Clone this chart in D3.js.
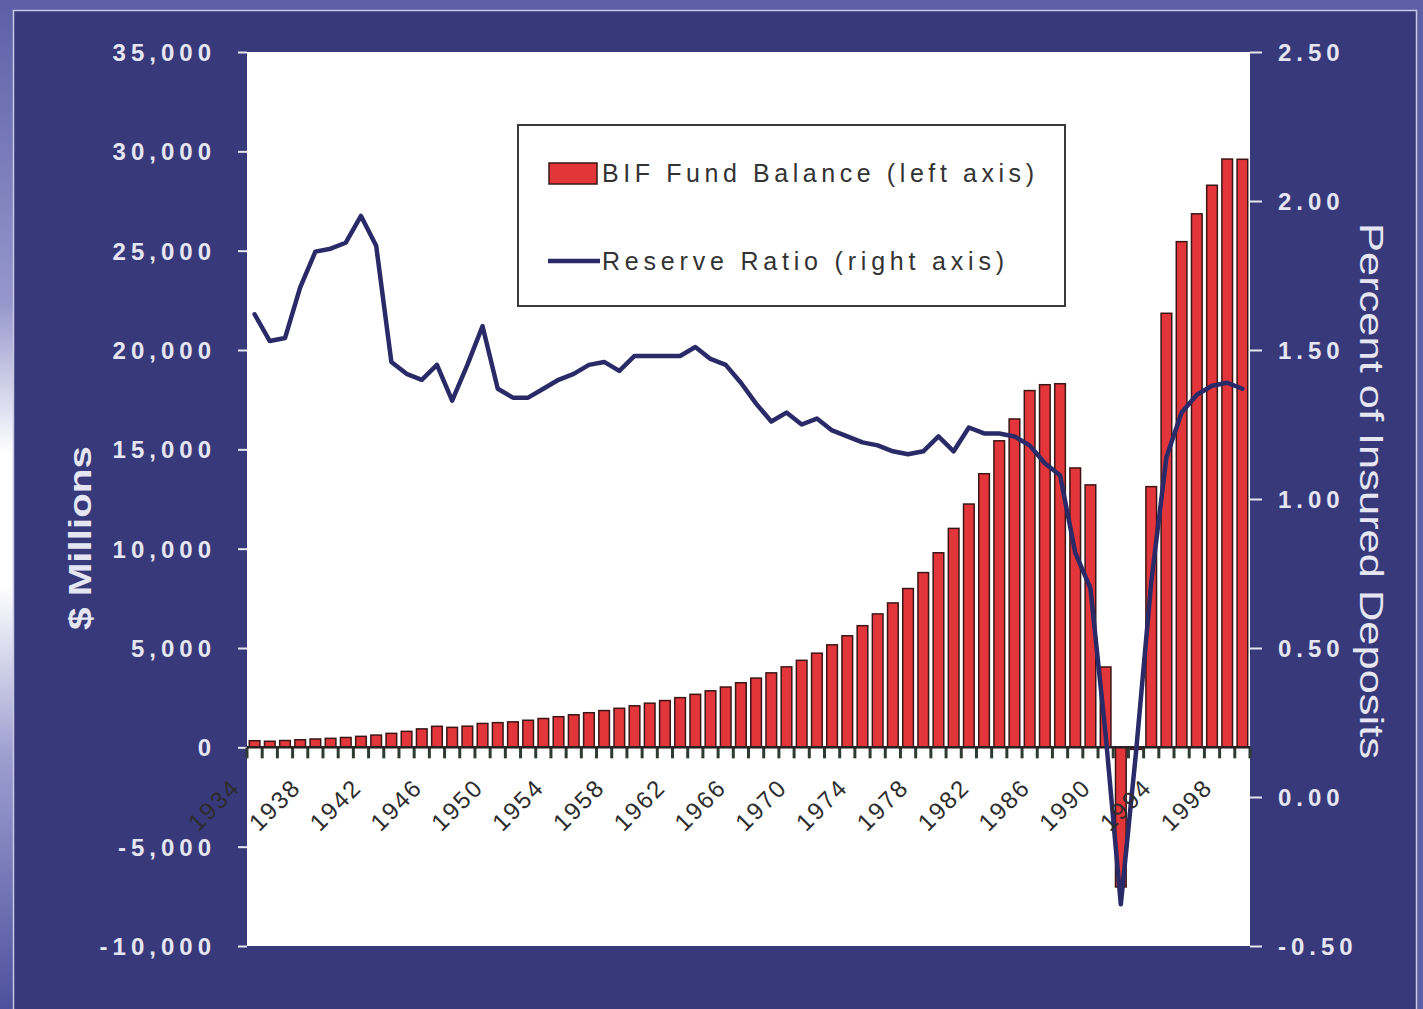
<!DOCTYPE html>
<html>
<head>
<meta charset="utf-8">
<script src="https://cdn.jsdelivr.net/npm/d3@7"></script>
<style>
  html, body { margin: 0; padding: 0; background: #5c5fa6; }
  svg { display: block; }
</style>
</head>
<body>
<svg id="chart" width="1423" height="1009"></svg>
<script>
// Years on the category axis
const years = [
  "1934","1935","1936","1937","1938","1939","1940","1941","1942","1943",
  "1944","1945","1946","1947","1948","1949","1950","1951","1952","1953",
  "1954","1955","1956","1957","1958","1959","1960","1961","1962","1963",
  "1964","1965","1966","1967","1968","1969","1970","1971","1972","1973",
  "1974","1975","1976","1977","1978","1979","1980","1981","1982","1983",
  "1984","1985","1986","1987","1988","1989","1990","1991","1992","1993",
  "1994","1995","1996","1997","1998","1999"
];

// BIF fund balance, $ millions (left axis)
const fundBalance = [
  333, 306, 343, 383, 420, 452, 496, 553, 616, 703,
  804, 929, 1058, 1006, 1065, 1203, 1243, 1282, 1363, 1451,
  1542, 1639, 1742, 1851, 1965, 2090, 2222, 2354, 2502, 2668,
  2845, 3036, 3252, 3485, 3749, 4051, 4380, 4739, 5159, 5615,
  6124, 6716, 7269, 7993, 8796, 9793, 11020, 12246, 13771, 15429,
  16529, 17957, 18253, 18302, 14062, 13210, 4045, -7028, -101, 13122,
  21848, 25454, 26854, 28293, 29612, 29600
];

// Reserve ratio, percent of insured deposits (right axis)
const reserveRatio = [
  1.62, 1.53, 1.54, 1.71, 1.83, 1.84, 1.86, 1.95, 1.85, 1.46,
  1.42, 1.40, 1.45, 1.33, 1.45, 1.58, 1.37, 1.34, 1.34, 1.37,
  1.40, 1.42, 1.45, 1.46, 1.43, 1.48, 1.48, 1.48, 1.48, 1.51,
  1.47, 1.45, 1.39, 1.32, 1.26, 1.29, 1.25, 1.27, 1.23, 1.21,
  1.19, 1.18, 1.16, 1.15, 1.16, 1.21, 1.16, 1.24, 1.22, 1.22,
  1.21, 1.18, 1.12, 1.08, 0.82, 0.70, 0.21, -0.36, 0.15, 0.72,
  1.14, 1.29, 1.35, 1.38, 1.39, 1.37
];

// Axis tick values and the labelled years
const leftTicks = [-10000, -5000, 0, 5000, 10000, 15000, 20000, 25000, 30000, 35000];
const rightTicks = [-0.5, 0, 0.5, 1.0, 1.5, 2.0, 2.5];
const labelYears = ["1934","1938","1942","1946","1950","1954","1958","1962","1966",
                    "1970","1974","1978","1982","1986","1990","1994","1998"];

const legendLabels = ["BIF Fund Balance (left axis)", "Reserve Ratio (right axis)"];
const leftTitle = "$ Millions";
const rightTitle = "Percent of Insured Deposits";

const W = 1423, H = 1009;
const plot = { left: 247, right: 1250, top: 52, bottom: 946 };

const NAVY = "#38397a";
const RED = "#e3363a";
const LINE = "#2a2a68";
const LABEL = "#e6e6f2";

const svg = d3.select("#chart");
const defs = svg.append("defs");

// Frame: gradient strip on the left, navy panel
const lg = defs.append("linearGradient").attr("id", "edge")
  .attr("x1", 0).attr("y1", 0).attr("x2", 0).attr("y2", 1);
[["0%", "#5c5fa6"], ["30%", "#9597cc"], ["45%", "#ffffff"], ["58%", "#ffffff"],
 ["75%", "#9c9ed0"], ["100%", "#4d509c"]].forEach(([o, c]) =>
  lg.append("stop").attr("offset", o).attr("stop-color", c));

svg.append("rect").attr("x", 0).attr("y", 0).attr("width", W).attr("height", H).attr("fill", "#5c5fa6");
svg.append("rect").attr("x", 0).attr("y", 0).attr("width", 14).attr("height", H).attr("fill", "url(#edge)");
svg.append("rect").attr("x", 13.5).attr("y", 10.5).attr("width", 1403).attr("height", 1000)
  .attr("fill", NAVY).attr("stroke", "#c6c8e6").attr("stroke-width", 1.5);

// Plot area
svg.append("rect").attr("x", plot.left).attr("y", plot.top)
  .attr("width", plot.right - plot.left).attr("height", plot.bottom - plot.top)
  .attr("fill", "#ffffff");

// Scales
const x = d3.scaleBand().domain(years).range([plot.left, plot.right])
  .paddingInner(0.3).paddingOuter(0.15);
const yL = d3.scaleLinear().domain([-10000, 35000]).range([plot.bottom, plot.top]);
const yR = d3.scaleLinear().domain([-0.5, 2.5]).range([plot.bottom, plot.top]);

const hyphen = s => s.replace("\u2212", "-");

// Left axis
const axL = svg.append("g").attr("transform", `translate(${plot.left},0)`)
  .call(d3.axisLeft(yL).tickValues(leftTicks).tickSize(9).tickPadding(22)
    .tickFormat(d => hyphen(d3.format(",")(d))));
axL.select(".domain").remove();
axL.selectAll(".tick line").attr("stroke", LABEL).attr("stroke-width", 2);
axL.selectAll(".tick text").attr("fill", LABEL)
  .style("font-family", "'Liberation Sans', Arial, sans-serif")
  .style("font-weight", "bold").style("font-size", "24px").style("letter-spacing", "5px")
  .attr("dy", "0.36em");

// Right axis
const axR = svg.append("g").attr("transform", `translate(${plot.right},0)`)
  .call(d3.axisRight(yR).tickValues(rightTicks).tickSize(12).tickPadding(16)
    .tickFormat(d => hyphen(d3.format(".2f")(d))));
axR.select(".domain").remove();
axR.selectAll(".tick line").attr("stroke", LABEL).attr("stroke-width", 2);
axR.selectAll(".tick text").attr("fill", LABEL)
  .style("font-family", "'Liberation Sans', Arial, sans-serif")
  .style("font-weight", "bold").style("font-size", "24px").style("letter-spacing", "5px")
  .attr("dy", "0.36em");

// Axis titles
svg.append("text")
  .attr("transform", `translate(91,538) rotate(-90)`)
  .attr("text-anchor", "middle")
  .attr("fill", LABEL)
  .style("font-family", "'Liberation Sans', Arial, sans-serif")
  .style("font-weight", "bold").style("font-size", "32px")
  .attr("textLength", 184).attr("lengthAdjust", "spacingAndGlyphs")
  .text(leftTitle);

svg.append("text")
  .attr("transform", `translate(1360,491) rotate(90)`)
  .attr("text-anchor", "middle")
  .attr("fill", LABEL)
  .style("font-family", "'Liberation Sans', Arial, sans-serif")
  .style("font-size", "33px")
  .attr("textLength", 536).attr("lengthAdjust", "spacingAndGlyphs")
  .text(rightTitle);

// Bars
const rows = years.map((yr, i) => ({ year: yr, fund: fundBalance[i], ratio: reserveRatio[i] }));
svg.append("g").selectAll("rect").data(rows).join("rect")
  .attr("x", d => x(d.year))
  .attr("width", x.bandwidth())
  .attr("y", d => yL(Math.max(0, d.fund)))
  .attr("height", d => Math.abs(yL(d.fund) - yL(0)))
  .attr("fill", RED)
  .attr("stroke", "#3c1616")
  .attr("stroke-width", 1.5);

// Category axis: zero line with boundary ticks
const x0 = yL(0);
const boundaries = years.map((yr, i) => plot.left + i * x.step()).concat([plot.right]);
const xAxisG = svg.append("g");
xAxisG.selectAll("line.tick").data(boundaries).join("line")
  .attr("class", "tick")
  .attr("x1", d => d).attr("x2", d => d)
  .attr("y1", x0).attr("y2", x0 + 11)
  .attr("stroke", "#2e3b33").attr("stroke-width", 3);
xAxisG.append("line")
  .attr("x1", plot.left).attr("x2", plot.right)
  .attr("y1", x0).attr("y2", x0)
  .attr("stroke", "#2a2222").attr("stroke-width", 2.5);

// Reserve ratio line
const line = d3.line()
  .x(d => x(d.year) + x.bandwidth() / 2)
  .y(d => yR(d.ratio));
svg.append("path").datum(rows)
  .attr("d", line)
  .attr("fill", "none")
  .attr("stroke", LINE)
  .attr("stroke-width", 4.5)
  .attr("stroke-linejoin", "round")
  .attr("stroke-linecap", "round");

// Year labels, slanted
svg.append("g").selectAll("text").data(labelYears).join("text")
  .attr("transform", d => `translate(${x(d) + x.bandwidth() / 2 - 13},789) rotate(-45)`)
  .attr("text-anchor", "end")
  .attr("fill", "#2c2c2c")
  .style("font-family", "'Liberation Sans', Arial, sans-serif")
  .style("font-size", "24px").style("letter-spacing", "2px")
  .text(d => d);

// Legend
const leg = svg.append("g");
leg.append("rect").attr("x", 518).attr("y", 125).attr("width", 547).attr("height", 181)
  .attr("fill", "#ffffff").attr("stroke", "#3a3a3a").attr("stroke-width", 2);
leg.append("rect").attr("x", 549).attr("y", 163).attr("width", 48).attr("height", 21)
  .attr("fill", RED).attr("stroke", "#3c1616").attr("stroke-width", 1.5);
leg.append("text").attr("x", 602).attr("y", 182)
  .attr("fill", "#333333")
  .style("font-family", "'Liberation Sans', Arial, sans-serif").style("font-size", "25px")
  .attr("textLength", 432).attr("lengthAdjust", "spacing")
  .text(legendLabels[0]);
leg.append("line").attr("x1", 548).attr("x2", 600).attr("y1", 261).attr("y2", 261)
  .attr("stroke", LINE).attr("stroke-width", 4.5);
leg.append("text").attr("x", 602).attr("y", 270)
  .attr("fill", "#333333")
  .style("font-family", "'Liberation Sans', Arial, sans-serif").style("font-size", "25px")
  .attr("textLength", 402).attr("lengthAdjust", "spacing")
  .text(legendLabels[1]);
</script>
</body>
</html>
